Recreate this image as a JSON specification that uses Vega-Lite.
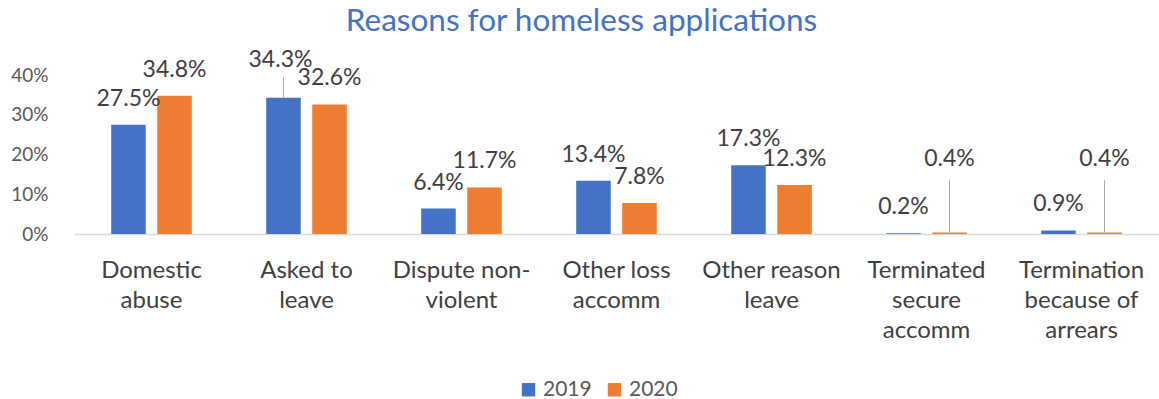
{
  "$schema": "https://vega.github.io/schema/vega-lite/v6.json",
  "autosize": "none",
  "width": 1085,
  "height": 159,
  "padding": {"left": 74, "top": 75, "right": 0, "bottom": 165},
  "background": "white",
  "config": {
    "view": {"stroke": null},
    "font": "Lato"
  },
  "title": {
    "text": "Reasons for homeless applications",
    "color": "#4472C4",
    "fontSize": 31.5,
    "fontWeight": "normal",
    "font": "Lato",
    "anchor": "middle",
    "dx": -35,
    "offset": 11
  },
  "data": {
    "values": [
      {"category": "Domestic abuse", "year": "2019", "value": 0.275},
      {"category": "Domestic abuse", "year": "2020", "value": 0.348},
      {"category": "Asked to leave", "year": "2019", "value": 0.343},
      {"category": "Asked to leave", "year": "2020", "value": 0.326},
      {"category": "Dispute non-violent", "year": "2019", "value": 0.064},
      {"category": "Dispute non-violent", "year": "2020", "value": 0.117},
      {"category": "Other loss accomm", "year": "2019", "value": 0.134},
      {"category": "Other loss accomm", "year": "2020", "value": 0.078},
      {"category": "Other reason leave", "year": "2019", "value": 0.173},
      {"category": "Other reason leave", "year": "2020", "value": 0.123},
      {"category": "Terminated secure accomm", "year": "2019", "value": 0.002},
      {"category": "Terminated secure accomm", "year": "2020", "value": 0.004},
      {"category": "Termination because of arrears", "year": "2019", "value": 0.009},
      {"category": "Termination because of arrears", "year": "2020", "value": 0.004}
    ]
  },
  "encoding": {
    "x": {
      "field": "category",
      "type": "nominal",
      "sort": null,
      "scale": {"paddingInner": 0.48, "paddingOuter": 0.24},
      "axis": {
        "title": null,
        "labelAngle": 0,
        "labelFontSize": 24,
        "labelColor": "#404040",
        "labelFont": "Lato",
        "labelLineHeight": 30,
        "labelPadding": 24,
        "labelBaseline": "top",
        "labelOverlap": false,
        "ticks": false,
        "domainColor": "#D9D9D9",
        "domainWidth": 1.5,
        "labelExpr": "{'Domestic abuse':['Domestic','abuse'],'Asked to leave':['Asked to','leave'],'Dispute non-violent':['Dispute non-','violent'],'Other loss accomm':['Other loss','accomm'],'Other reason leave':['Other reason','leave'],'Terminated secure accomm':['Terminated','secure','accomm'],'Termination because of arrears':['Termination','because of','arrears']}[datum.value]"
      }
    },
    "xOffset": {
      "field": "year",
      "type": "nominal",
      "scale": {"paddingInner": 0.25, "paddingOuter": 0}
    },
    "y": {
      "field": "value",
      "type": "quantitative",
      "scale": {"domain": [0, 0.4]},
      "axis": {
        "title": null,
        "format": ".0%",
        "values": [0, 0.1, 0.2, 0.3, 0.4],
        "labelOverlap": false,
        "grid": false,
        "domain": false,
        "ticks": false,
        "labelFontSize": 19,
        "labelColor": "#595959",
        "labelPadding": 26
      }
    }
  },
  "layer": [
    {
      "mark": {"type": "bar"},
      "encoding": {
        "color": {
          "field": "year",
          "type": "nominal",
          "scale": {"domain": ["2019", "2020"], "range": ["#4472C4", "#ED7D31"]},
          "legend": {
            "title": null,
            "orient": "none",
            "direction": "horizontal",
            "legendX": 444,
            "legendY": 304,
            "symbolType": "square",
            "symbolSize": 180,
            "symbolStrokeWidth": 0,
            "labelFontSize": 21,
            "labelColor": "#595959",
            "labelFont": "Lato",
            "columnPadding": 12,
            "labelOffset": 4
          }
        }
      }
    },
    {
      "transform": [{"filter": "!(datum.category == 'Asked to leave' && datum.year == '2019') && datum.value != 0.004"}],
      "mark": {"type": "text", "baseline": "middle", "dy": -26, "fontSize": 23, "color": "#404040", "font": "Lato"},
      "encoding": {"text": {"field": "value", "type": "quantitative", "format": ".1%"}}
    },
    {
      "transform": [{"filter": "datum.category == 'Asked to leave' && datum.year == '2019'"}],
      "mark": {"type": "text", "baseline": "middle", "dy": -38, "dx": -3, "fontSize": 23, "color": "#404040", "font": "Lato"},
      "encoding": {"text": {"field": "value", "type": "quantitative", "format": ".1%"}}
    },
    {
      "transform": [{"filter": "datum.value == 0.004"}],
      "mark": {"type": "text", "baseline": "middle", "dy": -73, "fontSize": 23, "color": "#404040", "font": "Lato"},
      "encoding": {"text": {"field": "value", "type": "quantitative", "format": ".1%"}}
    },
    {
      "transform": [{"filter": "datum.value == 0.004"}],
      "mark": {"type": "rule", "color": "#A6A6A6", "strokeWidth": 1, "y2Offset": -52},
      "encoding": {"y2": {"field": "value"}}
    },
    {
      "transform": [{"filter": "datum.category == 'Asked to leave' && datum.year == '2019'"}],
      "mark": {"type": "rule", "color": "#A6A6A6", "strokeWidth": 1, "y2Offset": -20},
      "encoding": {"y2": {"field": "value"}}
    }
  ]
}
